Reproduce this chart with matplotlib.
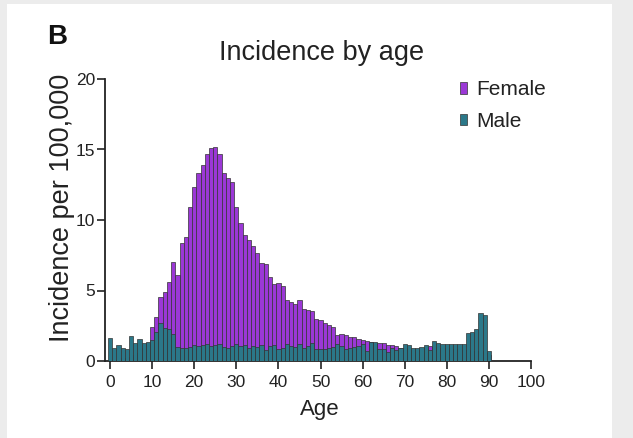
import matplotlib
matplotlib.use("Agg")
import matplotlib.pyplot as plt
from matplotlib.patches import Rectangle, Patch
import numpy as np

plt.rcParams['font.family'] = ['Liberation Sans', 'DejaVu Sans']

ages = list(range(0, 91))

female = [0.1, 0.1, 0.1, 0.2, 0.2, 0.3, 0.4, 0.6, 0.9, 1.3,
          2.4, 3.1, 4.56, 4.87, 5.58, 7.0, 6.1, 8.4, 8.8, 10.95,
          12.36, 13.3, 13.9, 14.65, 15.08, 15.2, 14.7, 13.3, 12.95, 12.7,
          10.95, 9.8, 8.94, 8.58, 8.16, 7.64, 6.97, 6.88, 5.98, 5.46,
          5.5, 5.3, 4.33, 4.2, 4.04, 4.33, 3.66, 3.62, 3.57, 2.96,
          2.9, 2.72, 2.55, 2.39, 1.84, 1.89, 1.84, 1.73, 1.68, 1.54,
          1.5, 1.45, 1.35, 1.3, 1.25, 1.25, 1.1, 1.1, 1.05, 0.9,
          0.9, 0.85, 0.8, 0.85, 0.9, 0.95, 1.08, 1.0, 0.95, 0.9,
          0.9, 0.85, 0.85, 0.8, 0.8, 0.75, 0.7, 0.7, 0.7, 0.6,
          0.4]

male = [1.6, 0.95, 1.15, 0.95, 0.85, 1.8, 1.3, 1.55, 1.3, 1.35,
        1.5, 2.05, 2.67, 2.35, 2.25, 1.9, 1.0, 0.95, 0.95, 1.0,
        1.1, 1.05, 1.15, 1.2, 1.05, 1.1, 1.2, 1.0, 0.9, 1.05,
        1.2, 1.05, 1.1, 0.9, 1.05, 1.0, 1.15, 0.8, 1.05, 1.1,
        0.85, 0.9, 1.18, 1.09, 1.02, 1.2, 0.9, 1.09, 1.25, 0.85,
        0.85, 0.85, 0.9, 1.02, 1.2, 1.09, 0.85, 0.95, 1.02, 1.09,
        1.18, 0.73, 1.37, 1.32, 0.85, 0.85, 0.66, 0.9, 0.78, 0.9,
        1.2, 1.13, 0.9, 0.9, 0.97, 1.13, 0.78, 1.44, 1.3, 1.18,
        1.18, 1.18, 1.2, 1.2, 1.18, 2.0, 2.08, 2.25, 3.38, 3.26,
        0.73]

x_ticks = list(range(0, 101, 10))
y_ticks = [0, 5, 10, 15, 20]
series_names = ["Female", "Male"]

female_color = "#9b38d6"
male_color = "#2b7889"
edge_color = "#333333"

W, H = 633, 438
fig = plt.figure(figsize=(W / 100, H / 100), dpi=100)
fig.patch.set_facecolor("#ececec")
bg = Rectangle((7 / W, 0), (612 - 7) / W, (H - 4) / H,
               transform=fig.transFigure, facecolor="white",
               edgecolor="none", zorder=-10)
fig.patches.append(bg)

ax = fig.add_axes([105 / W, (H - 361) / H, (531 - 105) / W, (361 - 79) / H])
ax.set_zorder(5)
ax.set_facecolor("white")

ax.bar(ages, female, width=1.0, color=female_color, edgecolor=edge_color,
       linewidth=0.5, zorder=2)
ax.bar(ages, male, width=1.0, color=male_color, edgecolor=edge_color,
       linewidth=0.5, zorder=3)

ax.set_xlim(-1.2, 100)
ax.set_ylim(0, 20)
ax.set_xticks(x_ticks)
ax.set_yticks(y_ticks)
ax.tick_params(axis="both", labelsize=12.5, length=6, width=1.2, color="#222222",
               labelcolor="#222222")
ax.tick_params(axis="x", pad=4)
ax.tick_params(axis="y", pad=1)
for s in ["top", "right"]:
    ax.spines[s].set_visible(False)
for s in ["left", "bottom"]:
    ax.spines[s].set_linewidth(1.3)
    ax.spines[s].set_color("#222222")

fig.text(0.098, (H - 208) / H, "Incidence per 100,000", rotation=90,
         ha="center", va="center", fontsize=19.5, color="#222222", zorder=6)
fig.text(320 / W, (H - 410) / H, "Age", ha="center", va="center",
         fontsize=16, color="#222222", zorder=6)
fig.text(322 / W, (H - 53) / H, "Incidence by age", ha="center", va="center",
         fontsize=19.5, color="#222222", zorder=6)
fig.text(47 / W, (H - 37) / H, "B", ha="left", va="center", fontsize=20,
         fontweight="bold", color="#111111", zorder=6)

handles = [Patch(facecolor=female_color, edgecolor=edge_color, linewidth=0.5),
           Patch(facecolor=male_color, edgecolor=edge_color, linewidth=0.5)]
leg = fig.legend(handles, series_names, loc="upper left",
                 bbox_to_anchor=(460 / W, (H - 80) / H), frameon=False,
                 fontsize=15, handlelength=0.33, handleheight=0.5,
                 handletextpad=0.45, labelspacing=0.62, borderaxespad=0,
                 borderpad=0, labelcolor="#222222")
leg.set_zorder(6)

fig.savefig("out.png", dpi=100, facecolor=fig.get_facecolor())
